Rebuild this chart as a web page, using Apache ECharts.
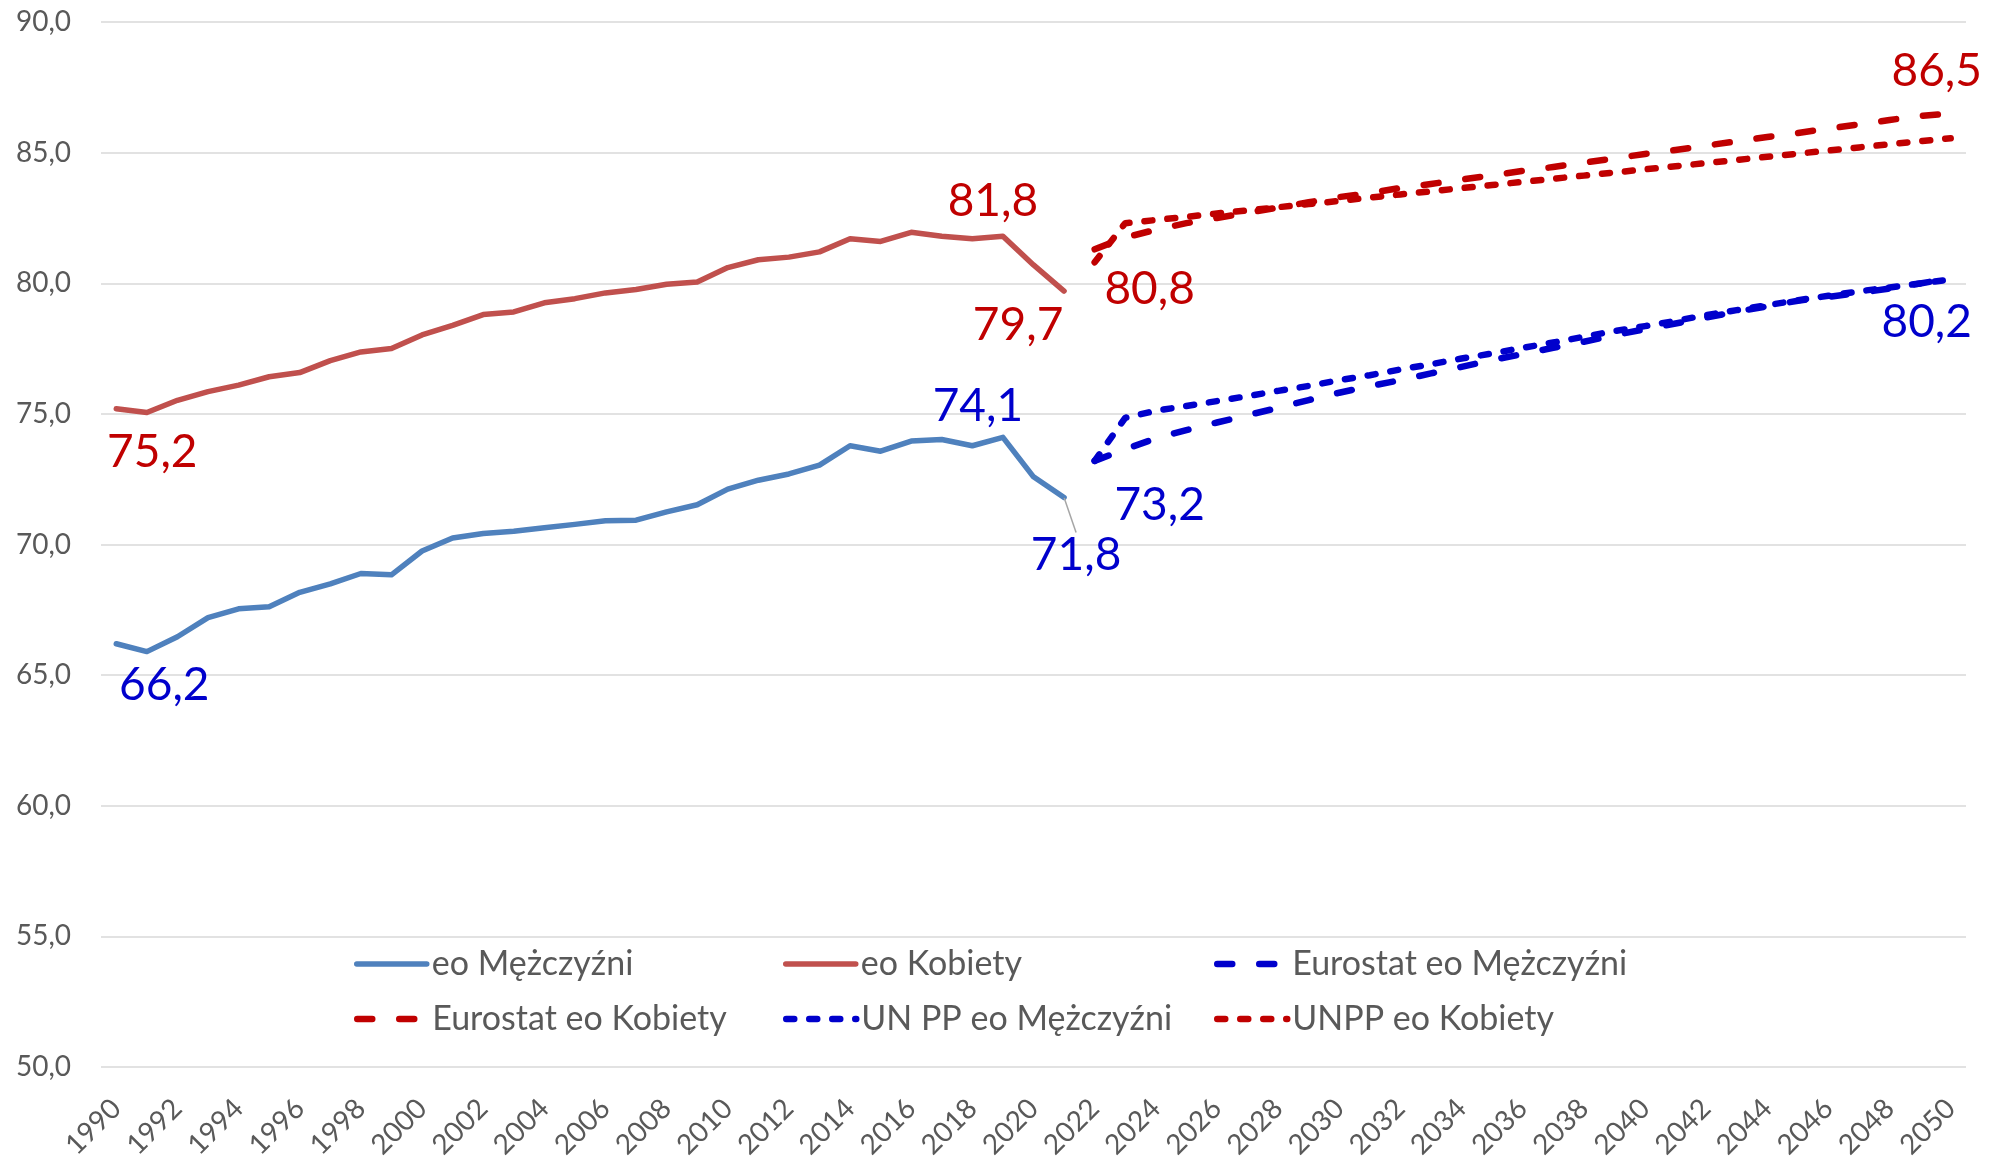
<!DOCTYPE html>
<html><head><meta charset="utf-8">
<script src="https://cdn.jsdelivr.net/npm/echarts@6/dist/echarts.min.js"></script>
<style>html,body{margin:0;padding:0;background:#fff}#c{width:1997px;height:1157px}</style>
</head><body><div id="c"></div>
<script>
// ---- categories ----
const years = ['1990','1991','1992','1993','1994','1995','1996','1997','1998','1999',
 '2000','2001','2002','2003','2004','2005','2006','2007','2008','2009',
 '2010','2011','2012','2013','2014','2015','2016','2017','2018','2019',
 '2020','2021','2022','2023','2024','2025','2026','2027','2028','2029',
 '2030','2031','2032','2033','2034','2035','2036','2037','2038','2039',
 '2040','2041','2042','2043','2044','2045','2046','2047','2048','2049','2050'];

// ---- observed 1990-2021 ----
const menHist = [66.2, 65.9, 66.47, 67.2, 67.54, 67.62, 68.17, 68.49, 68.89, 68.84,
 69.75, 70.25, 70.42, 70.51, 70.64, 70.77, 70.91, 70.93, 71.25, 71.52,
 72.12, 72.46, 72.7, 73.04, 73.78, 73.57, 73.96, 74.02, 73.78, 74.1, 72.59, 71.8];
const womenHist = [75.2, 75.05, 75.52, 75.85, 76.1, 76.42, 76.58, 77.04, 77.37, 77.5,
 78.02, 78.39, 78.8, 78.9, 79.25, 79.41, 79.63, 79.76, 79.96, 80.05,
 80.6, 80.9, 81.0, 81.2, 81.7, 81.6, 81.95, 81.8, 81.7, 81.8, 80.7, 79.7];

// ---- projections 2022-2050 ----
const eurostatMen = [73.2, 73.65, 74.06, 74.38, 74.67, 74.95, 75.23, 75.53, 75.81, 76.06,
 76.29, 76.55, 76.8, 77.06, 77.29, 77.53, 77.76, 78.01, 78.24, 78.46,
 78.69, 78.91, 79.12, 79.33, 79.48, 79.63, 79.8, 79.99, 80.2];
const eurostatWomen = [81.3, 81.75, 82.05, 82.3, 82.5, 82.7, 82.9, 83.1, 83.3, 83.45,
 83.65, 83.8, 83.97, 84.13, 84.3, 84.45, 84.62, 84.78, 84.95, 85.1,
 85.27, 85.43, 85.6, 85.75, 85.92, 86.08, 86.25, 86.4, 86.5];
const unMen = [73.2, 74.85, 75.12, 75.3, 75.49, 75.68, 75.88, 76.07, 76.29, 76.48,
 76.7, 76.9, 77.12, 77.31, 77.53, 77.73, 77.95, 78.17, 78.36, 78.56,
 78.78, 78.97, 79.16, 79.35, 79.52, 79.69, 79.84, 79.99, 80.15];
const unWomen = [80.8, 82.3, 82.42, 82.54, 82.67, 82.79, 82.91, 83.03, 83.15, 83.28,
 83.4, 83.52, 83.64, 83.76, 83.88, 84.0, 84.12, 84.24, 84.36, 84.48,
 84.6, 84.72, 84.84, 84.96, 85.08, 85.2, 85.32, 85.44, 85.55];

const seriesNames = ['eo Mężczyźni','eo Kobiety','Eurostat eo Mężczyźni','Eurostat eo Kobiety','UN PP eo Mężczyźni','UNPP eo Kobiety'];
const yTicks = {min: 50, max: 90, step: 5};

// ---- styling / label placement (not data) ----
const FONT = 'Lato';
const RED_LBL = '#C00000', BLUE_LBL = '#0000CC';
const labelSpecs = [
  {s: 1, year: '1990', dx: 36, dy: 44, color: RED_LBL},
  {s: 0, year: '1990', dx: 48, dy: 41, color: BLUE_LBL},
  {s: 0, year: '2019', dx: -25, dy: -31, color: BLUE_LBL},
  {s: 1, year: '2019', dx: -10, dy: -35, color: RED_LBL},
  {s: 1, year: '2021', dx: -46, dy: 34, color: RED_LBL},
  {s: 0, year: '2021', dx: 12, dy: 58, color: BLUE_LBL, leader: true},
  {s: 2, year: '2022', dx: 65, dy: 44, color: BLUE_LBL},
  {s: 5, year: '2022', dx: 55, dy: 27, color: RED_LBL},
  {s: 3, year: '2050', dx: -14, dy: -42, color: RED_LBL},
  {s: 2, year: '2050', dx: -24, dy: 44, color: BLUE_LBL}
];
const styles = [
  {color: '#4F81BD', width: 5.5, type: 'solid'},
  {color: '#C0504D', width: 5.5, type: 'solid'},
  {color: '#0000CC', width: 6.5, type: [15, 27]},
  {color: '#C00000', width: 6.5, type: [15, 27]},
  {color: '#0000CC', width: 6.5, type: [8, 15]},
  {color: '#C00000', width: 6.5, type: [8, 15]}
];

const fmt = v => Number(v).toFixed(1).replace('.', ',');
const histLen = menHist.length;
function full(hist, proj) {
  return years.map((y, i) => {
    if (hist) return i < hist.length ? hist[i] : '-';
    return i >= histLen ? proj[i - histLen] : '-';
  });
}
const raw = [
  full(menHist), full(womenHist),
  full(null, eurostatMen), full(null, eurostatWomen),
  full(null, unMen), full(null, unWomen)
];

const moves = {};
const series = raw.map((arr, si) => {
  const data = arr.slice();
  labelSpecs.filter(l => l.s === si).forEach(l => {
    const idx = years.indexOf(l.year);
    const item = {
      value: data[idx],
      label: {
        show: true, position: 'inside',
        formatter: p => fmt(p.value),
        color: l.color, fontSize: 46, fontFamily: FONT
      }
    };
    if (l.leader) {
      item.labelLine = {show: true, lineStyle: {color: '#A6A6A6', width: 1.5}};
    }
    moves[si + '_' + idx] = {dx: l.dx, dy: l.dy};
    data[idx] = item;
  });
  const st = styles[si];
  return {
    name: seriesNames[si],
    type: 'line',
    data: data,
    symbol: 'circle',
    symbolSize: 1,
    showSymbol: true,
    showAllSymbol: true,
    itemStyle: {color: 'rgba(0,0,0,0)'},
    lineStyle: {color: st.color, width: st.width, type: st.type, cap: 'round', join: 'round'},
    label: {show: false},
    labelLine: {show: false},
    labelLayout: function (p) {
      const m = moves[p.seriesIndex + '_' + p.dataIndex];
      return m ? {dx: m.dx, dy: m.dy} : {};
    },
    emphasis: {disabled: true},
    z: 2 + si
  };
});

const legendCols = [354, 783, 1214];
const legendRows = [964, 1019];
const legends = seriesNames.map((n, i) => ({
  data: [n],
  left: legendCols[i % 3],
  top: legendRows[Math.floor(i / 3)] - 17,
  padding: 0,
  itemWidth: 70,
  itemHeight: 14,
  itemGap: 0,
  selectedMode: false,
  itemStyle: {opacity: 0},
  lineStyle: {width: styles[i].width, type: styles[i].type, color: styles[i].color, cap: 'round'},
  textStyle: {fontSize: 34, color: '#595959', fontFamily: FONT}
}));

const chart = echarts.init(document.getElementById('c'), null, {renderer: 'canvas'});
chart.setOption({
  animation: false,
  backgroundColor: '#ffffff',
  grid: {left: 101, right: 31, top: 22, bottom: 90, containLabel: false, outerBoundsMode: 'none'},
  legend: legends,
  xAxis: {
    type: 'category',
    data: years,
    boundaryGap: true,
    axisLine: {show: false},
    axisTick: {show: false},
    axisLabel: {interval: 1, rotate: 45, margin: 37, fontSize: 28, color: '#595959', fontFamily: FONT},
    splitLine: {show: false}
  },
  yAxis: {
    type: 'value',
    min: yTicks.min, max: yTicks.max, interval: yTicks.step,
    axisLine: {show: false},
    axisTick: {show: false},
    axisLabel: {margin: 30, fontSize: 28, color: '#595959', fontFamily: FONT, formatter: v => fmt(v)},
    splitLine: {lineStyle: {color: '#D9D9D9', width: 1.5}}
  },
  series: series
});
</script>
</body></html>
